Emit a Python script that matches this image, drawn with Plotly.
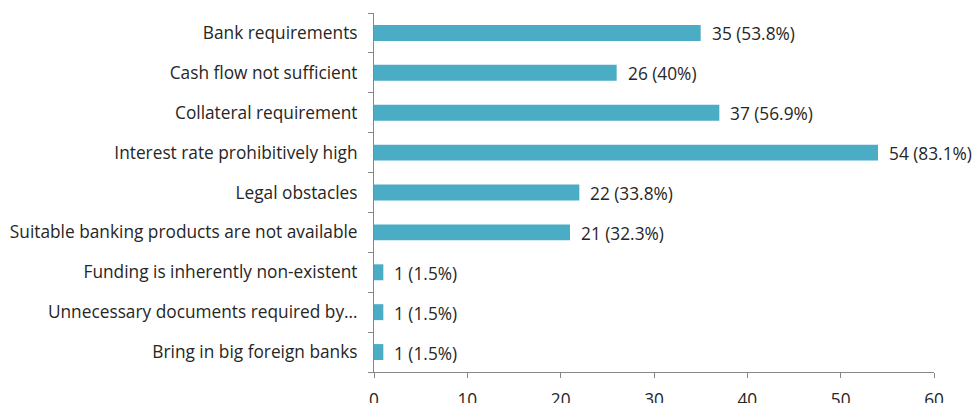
import plotly.graph_objects as go

# Reasons cited, listed top to bottom
categories = [
    "Bank requirements",
    "Cash flow not sufficient",
    "Collateral requirement",
    "Interest rate prohibitively high",
    "Legal obstacles",
    "Suitable banking products are not available",
    "Funding is inherently non-existent",
    "Unnecessary documents required by…",
    "Bring in big foreign banks",
]
counts = [35, 26, 37, 54, 22, 21, 1, 1, 1]
percents = [53.8, 40, 56.9, 83.1, 33.8, 32.3, 1.5, 1.5, 1.5]
x_ticks = [0, 10, 20, 30, 40, 50, 60]

labels = [f"{c} ({p:g}%)" for c, p in zip(counts, percents)]

font_family = "'Open Sans', sans-serif"
text_color = "#262626"
axis_color = "#868686"
fsize = 17.3

fig = go.Figure(
    go.Bar(
        y=categories,
        x=counts,
        orientation="h",
        marker=dict(color="#4BACC6", line=dict(width=0)),
        hoverinfo="x+y",
    )
)

# Value labels just past the end of each bar
for cat, val, lab in zip(categories, counts, labels):
    fig.add_annotation(
        x=val, y=cat, text=lab, showarrow=False,
        xanchor="left", yanchor="middle", xshift=9, yshift=-1,
        font=dict(family=font_family, size=fsize, color=text_color),
    )

fig.update_layout(
    width=978,
    height=403,
    margin=dict(l=374, r=44, t=13, b=31),
    paper_bgcolor="white",
    plot_bgcolor="white",
    bargap=0.6,
    showlegend=False,
    font=dict(family=font_family, size=fsize, color=text_color),
)

fig.update_xaxes(
    range=[0, 60],
    tickvals=x_ticks,
    ticks="outside",
    ticklen=5,
    tickcolor=axis_color,
    showline=True,
    linecolor=axis_color,
    linewidth=1,
    showgrid=False,
    zeroline=False,
    automargin=False,
    ticklabelstandoff=7,
    tickfont=dict(size=fsize),
)

fig.update_yaxes(
    categoryorder="array",
    categoryarray=categories[::-1],
    ticks="outside",
    ticklen=5,
    tickcolor=axis_color,
    tickson="boundaries",
    showline=True,
    linecolor=axis_color,
    linewidth=1,
    showgrid=False,
    automargin=False,
    ticklabelstandoff=12,
    tickfont=dict(size=fsize),
)

fig.write_html("out.html")
